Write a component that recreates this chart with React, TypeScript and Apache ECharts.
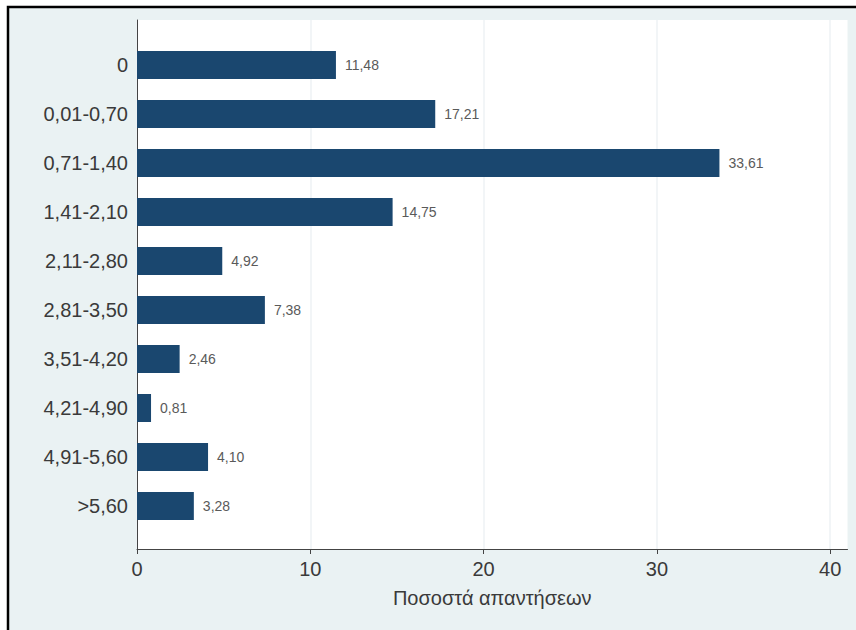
import React, { useEffect, useRef } from "react";
import * as echarts from "echarts";

const categories = [
  "0",
  "0,01-0,70",
  "0,71-1,40",
  "1,41-2,10",
  "2,11-2,80",
  "2,81-3,50",
  "3,51-4,20",
  "4,21-4,90",
  "4,91-5,60",
  ">5,60",
];
const percentages = [11.48, 17.21, 33.61, 14.75, 4.92, 7.38, 2.46, 0.81, 4.1, 3.28];
const xTicks = [0, 10, 20, 30, 40];
const xTitle = "Ποσοστά απαντήσεων";

const FONT = "'Liberation Sans', Arial, sans-serif";

export default function App() {
  const ref = useRef<HTMLDivElement>(null);
  useEffect(() => {
    if (!ref.current) return;
    const chart = echarts.init(ref.current, undefined, { renderer: "svg" });
    const gridLeft = 137;
    const gridWidth = 710.5;
    chart.setOption({
      animation: false,
      backgroundColor: "#ffffff",
      textStyle: { fontFamily: FONT },
      graphic: [
        {
          type: "rect",
          z: -100,
          silent: true,
          shape: { x: 8, y: 7, width: 900, height: 700 },
          style: { fill: "#eaf2f3", stroke: "#000000", lineWidth: 2.5 },
        },
      ],
      grid: [
        { left: gridLeft, top: 40.5, width: gridWidth, height: 490, show: false },
        {
          left: gridLeft,
          top: 20,
          width: gridWidth,
          height: 529,
          show: true,
          backgroundColor: "#ffffff",
          borderWidth: 0,
        },
      ],
      xAxis: [
        { type: "value", gridIndex: 0, min: 0, max: 41, show: false },
        {
          type: "value",
          gridIndex: 1,
          min: 0,
          max: 41,
          interval: 10,
          name: xTitle,
          nameLocation: "middle",
          nameGap: 39,
          nameTextStyle: { fontSize: 20, color: "#3a3a3a", fontFamily: FONT },
          axisLine: { show: true, lineStyle: { color: "#444444", width: 1 } },
          axisTick: {
            show: true,
            length: 5,
            customValues: xTicks,
            lineStyle: { color: "#444444" },
          },
          axisLabel: {
            show: true,
            margin: 10,
            fontSize: 20,
            color: "#3a3a3a",
            fontFamily: FONT,
            customValues: xTicks,
            formatter: (v: number) => (xTicks.includes(v) ? String(v) : ""),
          },
          splitLine: { show: true, lineStyle: { color: "#eef2f4", width: 1.5 } },
        },
      ],
      yAxis: [
        {
          type: "category",
          gridIndex: 0,
          data: categories,
          inverse: true,
          axisLine: { show: false },
          axisTick: { show: false },
          splitLine: { show: false },
          axisLabel: {
            fontSize: 20,
            color: "#3a3a3a",
            margin: 9,
            fontFamily: FONT,
          },
        },
        {
          type: "value",
          gridIndex: 1,
          min: 0,
          max: 1,
          axisLine: { show: true, lineStyle: { color: "#444444", width: 1 } },
          axisTick: { show: false },
          axisLabel: { show: false },
          splitLine: { show: false },
        },
      ],
      series: [
        {
          type: "bar",
          xAxisIndex: 0,
          yAxisIndex: 0,
          data: percentages,
          barWidth: 28,
          itemStyle: { color: "#1a476f" },
          label: {
            show: true,
            position: "right",
            distance: 9,
            fontSize: 14,
            color: "#5a5a5a",
            fontFamily: FONT,
            formatter: (p: any) => Number(p.value).toFixed(2).replace(".", ","),
          },
        },
      ],
    });
    return () => chart.dispose();
  }, []);
  return (
    <div
      ref={ref}
      style={{ position: "absolute", left: 0, top: 0, width: 856, height: 630 }}
    />
  );
}
